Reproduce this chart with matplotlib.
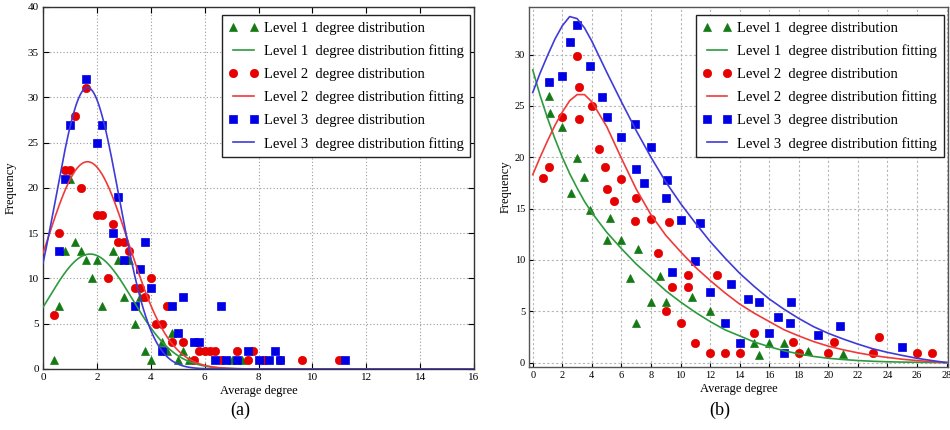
import numpy as np
import matplotlib
matplotlib.use("Agg")
import matplotlib.pyplot as plt

plt.rcParams['font.family'] = ['Liberation Serif', 'DejaVu Serif']
plt.rcParams['mathtext.fontset'] = 'stix'

# ---------------- data: panel (a) ----------------
a_l1_x = [0.4, 0.6, 0.8, 1.0, 1.2, 1.4, 1.6, 1.8, 2.0, 2.2, 2.6, 2.8, 3.0, 3.2, 3.4, 3.6,
          3.8, 4.0, 4.4, 4.6, 4.8, 5.0, 5.2, 5.4, 7.0, 7.4]
a_l1_y = [1, 7, 13, 21, 14, 13, 12, 10, 12, 7, 13, 12, 8, 12, 5, 8,
          2, 1, 3, 2, 4, 1, 2, 1, 1, 1]

a_l2_x = [0.4, 0.6, 0.8, 1.0, 1.2, 1.4, 1.6, 2.0, 2.2, 2.4, 2.6, 2.8, 3.0, 3.2, 3.4, 3.6,
          3.8, 4.0, 4.2, 4.4, 4.6, 4.8, 5.2, 5.6, 5.8, 6.0, 6.2, 6.4, 6.6, 7.2, 7.6,
          7.8, 8.2, 8.8, 9.6, 11.0]
a_l2_y = [6, 15, 22, 22, 28, 20, 31, 17, 17, 10, 16, 14, 14, 13, 9, 9,
          8, 10, 5, 5, 7, 3, 3, 1, 2, 2, 2, 2, 1, 2, 1,
          2, 1, 1, 1, 1]

a_l3_x = [0.6, 0.8, 1.0, 1.6, 2.0, 2.2, 2.6, 2.8, 3.0, 3.4, 3.6, 3.8, 4.0, 4.4, 4.8, 5.0,
          5.2, 5.6, 5.8, 6.4, 6.6, 6.8, 7.2, 7.6, 8.0, 8.4, 8.6, 8.8, 11.2]
a_l3_y = [13, 21, 27, 32, 25, 27, 15, 19, 12, 7, 11, 14, 9, 2, 7, 4,
          8, 3, 3, 1, 7, 1, 1, 2, 1, 1, 2, 1, 1]

# Gaussian fitting curves: peak height, centre, width
a_fit_peak = [12.7, 22.9, 31.1]
a_fit_center = [1.75, 1.65, 1.65]
a_fit_width = [1.57, 1.53, 1.18]

# ---------------- data: panel (b) ----------------
b_l1_x = [1.1, 1.2, 2.0, 3.0, 3.5, 2.6, 3.9, 5.2, 5.0, 6.0, 7.1, 6.6, 8.6, 8.0, 9.0, 7.0,
          10.8, 12.0, 15.0, 15.3, 16.0, 17.0, 18.6, 21.0]
b_l1_y = [26.0, 24.3, 22.9, 19.9, 18.1, 16.5, 14.9, 14.1, 11.9, 11.9, 11.1, 8.2, 8.4, 5.9, 5.9, 3.9,
          6.4, 5.0, 1.9, 0.7, 1.9, 1.9, 1.1, 0.8]

b_l2_x = [0.7, 1.1, 2.0, 3.0, 3.1, 3.1, 4.0, 4.5, 4.9, 5.0, 5.5, 6.0, 7.0, 6.9, 8.0, 9.2,
          8.5, 10.5, 9.4, 10.5, 9.0, 10.0, 12.5, 11.0, 12.0, 13.0, 14.0, 15.0, 17.6, 18.0,
          20.0, 20.4, 23.0, 23.4, 26.0, 27.0]
b_l2_y = [18.0, 19.0, 23.9, 29.9, 26.8, 23.7, 25.0, 20.8, 19.0, 16.9, 15.7, 17.9, 16.0, 13.8, 14.0, 13.7,
          10.7, 8.5, 7.4, 7.4, 5.0, 3.9, 8.5, 1.9, 0.9, 0.9, 0.9, 2.9, 2.0, 0.9,
          0.9, 2.0, 0.9, 2.5, 0.9, 0.9]

b_l3_x = [1.1, 2.0, 2.5, 3.0, 3.9, 4.7, 5.0, 6.0, 6.9, 8.0, 7.0, 7.5, 9.1, 9.0, 10.0, 11.3,
          11.0, 9.4, 12.0, 13.4, 13.0, 14.6, 15.3, 14.0, 16.6, 17.4, 17.5, 16.0, 17.0, 19.3,
          20.8, 25.0]
b_l3_y = [27.3, 27.9, 31.2, 32.9, 28.9, 25.9, 23.9, 22.0, 23.2, 21.0, 18.9, 17.5, 17.8, 16.0, 13.9, 13.6,
          9.9, 8.8, 6.9, 7.7, 3.9, 6.2, 5.9, 1.9, 4.4, 3.9, 5.9, 2.9, 0.9, 2.7,
          3.6, 1.5]

# fitting curves
b_fit_x = [0, 0.5, 1, 1.5, 2, 2.5, 3, 3.5, 4, 5, 6, 7, 8, 9, 10, 11, 12, 13, 14, 15, 16,
           17, 18, 19, 20, 21, 22, 23, 24, 25, 26, 27, 28]
b_fit1_y = [28.5, 26.0, 23.8, 21.8, 20.0, 18.4, 17.0, 15.7, 14.6, 12.7, 11.1, 9.6, 8.3, 7.0,
            5.9, 4.9, 4.0, 3.2, 2.6, 2.0, 1.55, 1.15, 0.85, 0.6, 0.42, 0.3, 0.2, 0.13, 0.08,
            0.05, 0.03, 0.01, 0.0]
b_fit2_y = [18.3, 20.0, 21.6, 23.1, 24.4, 25.5, 26.1, 26.1, 25.4, 23.0, 19.9, 16.9, 14.4, 12.4,
            10.8, 9.3, 8.0, 6.8, 5.7, 4.8, 4.0, 3.2, 2.6, 2.05, 1.6, 1.25, 0.95, 0.7, 0.5,
            0.33, 0.2, 0.09, 0.0]
b_fit3_y = [26.3, 28.2, 29.9, 31.5, 32.8, 33.7, 33.5, 32.6, 31.3, 28.3, 25.4, 22.6, 20.0, 17.6,
            15.5, 13.6, 11.8, 10.2, 8.7, 7.4, 6.2, 5.2, 4.3, 3.5, 2.85, 2.3, 1.8, 1.35, 1.0,
            0.7, 0.42, 0.2, 0.0]

labels = ["Level 1  degree distribution", "Level 1  degree distribution fitting",
          "Level 2  degree distribution", "Level 2  degree distribution fitting",
          "Level 3  degree distribution", "Level 3  degree distribution fitting"]

pt_colors = ['#157a15', '#e60000', '#0000e6']
ln_colors = ['#2e9a3e', '#f03a3a', '#3f3ad8']
markers = ['^', 'o', 's']
msizes = [5.5, 6.0, 5.5]

fig = plt.figure(figsize=(9.5, 4.3), dpi=100)
axA = fig.add_axes([0.0453, 0.1419, 0.4537, 0.8419])
axB = fig.add_axes([0.5572, 0.1472, 0.4407, 0.8358])

leg_kw = dict(loc='upper right', fontsize=10.5, numpoints=2, handlelength=2.0,
              handletextpad=0.4, labelspacing=0.66, borderpad=0.45, borderaxespad=0.0,
              fancybox=False, framealpha=1, edgecolor='#222222')

# ---------- panel (a) ----------
xf = np.linspace(0, 16, 600)
a_sets = [(a_l1_x, a_l1_y), (a_l2_x, a_l2_y), (a_l3_x, a_l3_y)]
for i, (xs, ys) in enumerate(a_sets):
    axA.plot(xs, ys, linestyle='none', marker=markers[i], color=pt_colors[i],
             markersize=msizes[i], markeredgewidth=0.5, markeredgecolor=pt_colors[i],
             label=labels[2 * i], zorder=3)
    yf = a_fit_peak[i] * np.exp(-(xf - a_fit_center[i]) ** 2 / (2 * a_fit_width[i] ** 2))
    axA.plot(xf, yf, color=ln_colors[i], lw=1.2, label=labels[2 * i + 1], zorder=4)

axA.set_xlim(0, 16)
axA.set_ylim(0, 40)
axA.set_xticks(np.arange(0, 17, 2))
axA.set_yticks(np.arange(0, 41, 5))
axA.grid(True, linestyle=(0, (1, 2)), color='#9a9a9a', lw=0.8)
axA.set_xlabel("Average degree", fontsize=9, labelpad=2)
axA.set_ylabel("Frequency", fontsize=9, labelpad=8)
axA.tick_params(direction='in', top=True, right=True, labelsize=8, length=4, pad=3)
for s in axA.spines.values():
    s.set_color('#333333')
    s.set_linewidth(1.0)
legA = axA.legend(bbox_to_anchor=(0.991, 0.978), **leg_kw)
legA.get_frame().set_linewidth(1.0)

# ---------- panel (b) ----------
b_sets = [(b_l1_x, b_l1_y), (b_l2_x, b_l2_y), (b_l3_x, b_l3_y)]
b_fits = [b_fit1_y, b_fit2_y, b_fit3_y]
for i, (xs, ys) in enumerate(b_sets):
    axB.plot(xs, ys, linestyle='none', marker=markers[i], color=pt_colors[i],
             markersize=msizes[i], markeredgewidth=0.5, markeredgecolor=pt_colors[i],
             label=labels[2 * i], zorder=3)
    axB.plot(b_fit_x, b_fits[i], color=ln_colors[i], lw=1.2, label=labels[2 * i + 1], zorder=4)

axB.set_xlim(-0.23, 28.1)
axB.set_ylim(-0.4, 34.6)
axB.set_xticks(np.arange(0, 29, 2))
axB.set_yticks(np.arange(0, 31, 5))
axB.grid(True, linestyle=(0, (2, 2)), color='#b5b5b5', lw=0.8)
axB.set_xlabel("Average degree", fontsize=9, labelpad=2)
axB.set_ylabel("Frequency", fontsize=9, labelpad=2)
axB.tick_params(direction='in', labelsize=7.5, length=3, pad=3)
for s in axB.spines.values():
    s.set_color('#555555')
    s.set_linewidth(1.0)
legB = axB.legend(bbox_to_anchor=(0.99, 0.979), **leg_kw)
legB.get_frame().set_linewidth(1.0)

fig.text(240 / 950, 1 - 410 / 430, "(a)", fontsize=13, ha='center', va='center')
fig.text(720 / 950, 1 - 410 / 430, "(b)", fontsize=13, ha='center', va='center')

fig.savefig("out.png", dpi=100)
